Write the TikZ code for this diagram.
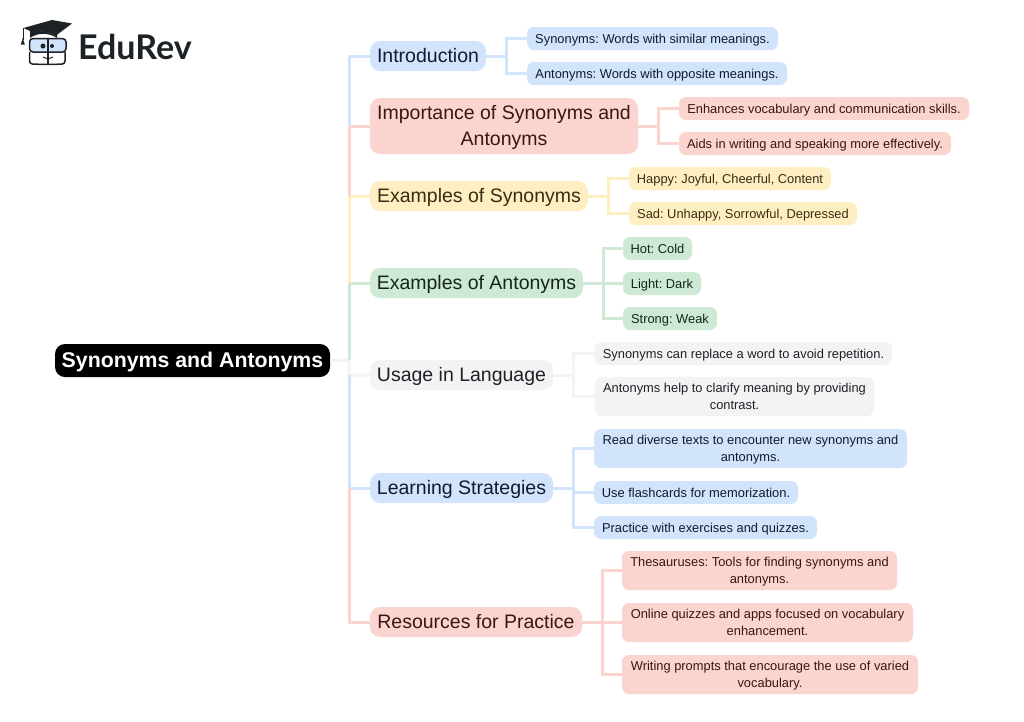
\documentclass[tikz,border=0pt]{standalone}
\usepackage{fontspec}
\setmainfont{Liberation Sans}
\newfontfamily\logofont{Lato}
\frenchspacing
\definecolor{bluebg}{HTML}{D2E3FC}
\definecolor{redbg}{HTML}{FBD4D0}
\definecolor{yelbg}{HTML}{FEEFC3}
\definecolor{grnbg}{HTML}{CEEAD6}
\definecolor{grybg}{HTML}{F1F3F4}
\definecolor{bluefg}{HTML}{101A33}
\definecolor{redfg}{HTML}{3A1512}
\definecolor{yelfg}{HTML}{3A2C10}
\definecolor{grnfg}{HTML}{14261B}
\definecolor{gryfg}{HTML}{202124}
\definecolor{logod}{HTML}{1C2226}
\newcommand{\bx}[8]{\node[#2,fill=#3bg,text=#3fg,minimum width=#6pt-#4pt,minimum height=#7pt-#5pt] (#1) at ({(#4+#6)/2},{(#5+#7)/2}) {\raisebox{-1.5pt}[\height][\depth]{\begin{tabular}{@{}c@{}}#8\end{tabular}}};}
\tikzset{
  big/.style={rounded corners=10pt,inner sep=0pt,font=\fontsize{19.5}{26}\selectfont},
  small/.style={rounded corners=7pt,inner sep=0pt,font=\fontsize{12.88}{17}\selectfont},
  link/.style={line width=3pt,line cap=butt,line join=miter},
  linkblue/.style={link,draw=bluebg},
  linkred/.style={link,draw=redbg},
  linkyel/.style={link,draw=yelbg},
  linkgrn/.style={link,draw=grnbg},
  linkgry/.style={link,draw=grybg},
}
\begin{document}
\begin{tikzpicture}[x=1pt,y=-1pt]
\useasboundingbox (0,0) rectangle (1024,721);
\fill[white] (0,0) rectangle (1024,721);
% spine coordinate
\coordinate (sp) at (349,360);
% logo
\fill[logod] (23.5,28) -- (52,20) -- (72,23.5) -- (56,35.5) -- (47,32) -- (30,31) -- cycle;
\fill[logod] (30,30) -- (47,32) -- (56,35.5) -- (57,30) -- (57,38) .. controls (50,33) and (38,32) .. (30,38) -- cycle;
\draw[logod,line width=1pt] (23,28) -- (23,40);
\fill[logod] (22.8,38) -- (24.8,44.5) -- (20.8,44.5) -- cycle;
\draw[logod,line width=1.5pt,fill=bluebg,rounded corners=3.5pt] (29.5,38.5) rectangle (66,52);
\draw[logod,line width=1.5pt,rounded corners=3pt] (29.5,52) -- (29.5,64) -- (47,64.5);
\draw[logod,line width=1.5pt,rounded corners=3pt] (49,64.5) -- (65,64) -- (65,52);
\draw[logod,line width=1.5pt] (48,38) -- (48,65);
\fill[logod] (43,46) circle (2.5pt) (52,46) circle (2pt);
\draw[logod,line width=1pt] (43,57) .. controls (46,59) and (50,59) .. (53,57);
\node[anchor=base west,inner sep=0pt,text=logod,font=\logofont\bfseries\fontsize{34}{34}\selectfont] (brand) at (78,59.5) {EduRev};
% root
\node[fill=black,text=white,rounded corners=10pt,inner sep=0pt,minimum width=275pt,minimum height=33pt,font=\bfseries\fontsize{21.3}{25}\selectfont] (root) at (192.5,360.5) {\raisebox{-1pt}[\height][\depth]{Synonyms and Antonyms}};
% branches
\bx{intro}{big}{blue}{370}{41}{486}{71}{Introduction}
\bx{ia}{small}{blue}{527}{27}{778}{50}{Synonyms: Words with similar meanings.}
\bx{ib}{small}{blue}{527}{62}{787}{85}{Antonyms: Words with opposite meanings.}
\bx{imp}{big}{red}{370}{98}{638}{154}{Importance of Synonyms and\\Antonyms}
\bx{pa}{small}{red}{679}{97}{969}{120}{Enhances vocabulary and communication skills.}
\bx{pb}{small}{red}{679}{132}{951}{155}{Aids in writing and speaking more effectively.}
\bx{syn}{big}{yel}{370}{181}{588}{211}{Examples of Synonyms}
\bx{sa}{small}{yel}{629}{167}{831}{190}{Happy: Joyful, Cheerful, Content}
\bx{sb}{small}{yel}{629}{202}{857}{225}{Sad: Unhappy, Sorrowful, Depressed}
\bx{ant}{big}{grn}{370}{268}{583}{298}{Examples of Antonyms}
\bx{aa}{small}{grn}{623}{237}{692}{260}{Hot: Cold}
\bx{ab}{small}{grn}{623}{272}{701}{295}{Light: Dark}
\bx{ac}{small}{grn}{623}{307}{717}{330}{Strong: Weak}
\bx{use}{big}{gry}{370}{360}{553}{390}{Usage in Language}
\bx{ua}{small}{gry}{595}{342}{892}{365}{Synonyms can replace a word to avoid repetition.}
\bx{ub}{small}{gry}{595}{377}{874}{416}{Antonyms help to clarify meaning by providing\\contrast.}
\bx{lrn}{big}{blue}{370}{473}{553}{503}{Learning Strategies}
\bx{la}{small}{blue}{594}{429}{907}{468}{Read diverse texts to encounter new synonyms and\\antonyms.}
\bx{lb}{small}{blue}{594}{481}{798}{504}{Use flashcards for memorization.}
\bx{lc}{small}{blue}{594}{516}{817}{539}{Practice with exercises and quizzes.}
\bx{res}{big}{red}{370}{607}{582}{637}{Resources for Practice}
\bx{ra}{small}{red}{622}{551}{897}{590}{Thesauruses: Tools for finding synonyms and\\antonyms.}
\bx{rb}{small}{red}{622}{603}{913}{642}{Online quizzes and apps focused on vocabulary\\enhancement.}
\bx{rc}{small}{red}{622}{655}{918}{694}{Writing prompts that encourage the use of varied\\vocabulary.}
% main connectors
\draw[linkgry] (root.east) -- (sp) -- (sp |- use.west) -- (use.west);
\draw[linkgrn] (ant.west) -| (sp);
\draw[linkyel] (syn.west) -| (sp |- ant.west);
\draw[linkred] (imp.west) -| (sp |- syn.west);
\draw[linkblue] (intro.west) -| (sp |- imp.west);
\draw[linkblue] (sp |- use.west) -- (sp |- lrn.west) -- (lrn.west);
\draw[linkred] (sp |- lrn.west) -- (sp |- res.west) -- (res.west);
% child connectors
\draw[linkblue] (intro.east) -- ++(20.5,0) coordinate (j1) |- (ia.west);
\draw[linkblue] (j1) |- (ib.west);
\draw[linkred] (imp.east) -- ++(20.5,0) coordinate (j2) |- (pa.west);
\draw[linkred] (j2) |- (pb.west);
\draw[linkyel] (syn.east) -- ++(20.5,0) coordinate (j3) |- (sa.west);
\draw[linkyel] (j3) |- (sb.west);
\draw[linkgrn] (ant.east) -- ++(20.5,0) coordinate (j4) |- (aa.west);
\draw[linkgrn] (j4) |- (ab.west);
\draw[linkgrn] (j4) |- (ac.west);
\draw[linkgry] (use.east) -- ++(20.5,0) coordinate (j5) |- (ua.west);
\draw[linkgry] (j5) |- (ub.west);
\draw[linkblue] (lrn.east) -- ++(20.5,0) coordinate (j6) |- (la.west);
\draw[linkblue] (j6) |- (lb.west);
\draw[linkblue] (j6) |- (lc.west);
\draw[linkred] (res.east) -- ++(20,0) coordinate (j7) |- (ra.west);
\draw[linkred] (j7) |- (rb.west);
\draw[linkred] (j7) |- (rc.west);
\end{tikzpicture}
\end{document}
